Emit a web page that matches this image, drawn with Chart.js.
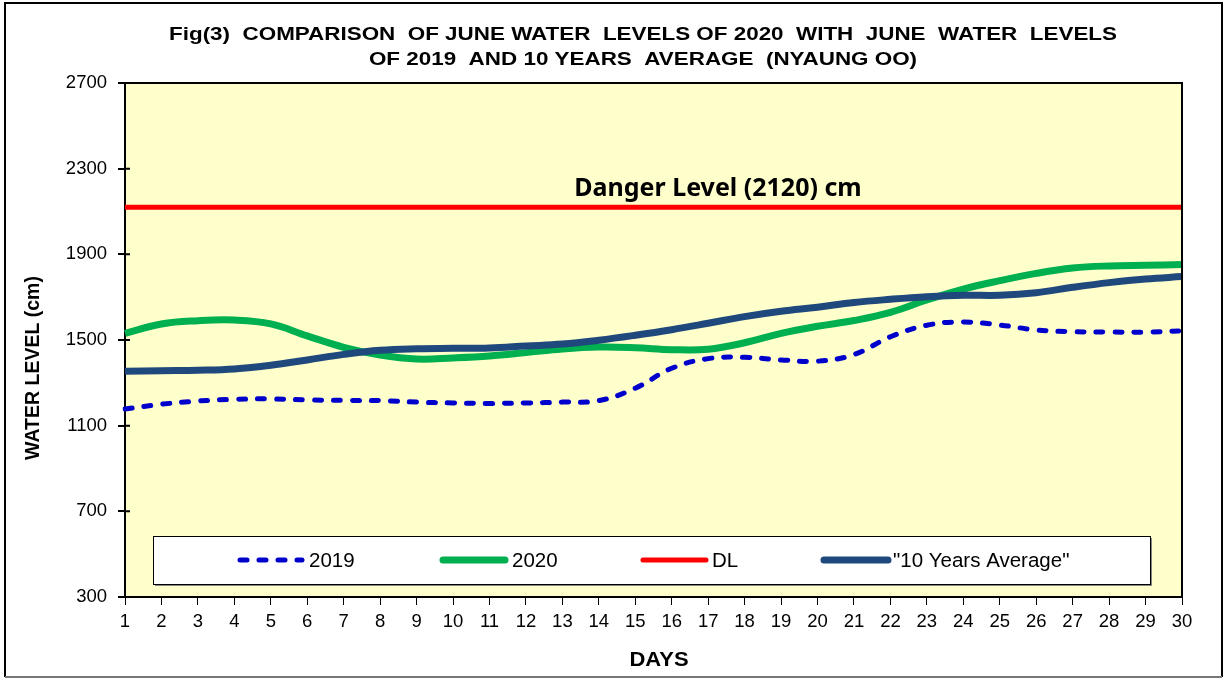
<!DOCTYPE html>
<html>
<head>
<meta charset="utf-8">
<script src="https://cdn.jsdelivr.net/npm/chart.js@4.4.1/dist/chart.umd.min.js"></script>
<style>
html,body{margin:0;padding:0;background:#fff;}
canvas{display:block;}
</style>
</head>
<body>
<canvas id="c" width="1227" height="680"></canvas>
<script>
const DAYS = ['1','2','3','4','5','6','7','8','9','10','11','12','13','14','15','16','17','18','19','20','21','22','23','24','25','26','27','28','29','30'];
const Y2019 = [1178,1200,1215,1223,1225,1220,1218,1217,1210,1206,1204,1206,1210,1217,1275,1368,1413,1419,1407,1401,1432,1515,1569,1584,1570,1547,1539,1537,1537,1543];
const Y2020 = [1531,1575,1590,1593,1575,1519,1466,1430,1411,1416,1425,1441,1458,1467,1464,1455,1457,1487,1531,1564,1591,1629,1687,1738,1777,1811,1836,1846,1849,1852];
const DL = [2120,2120,2120,2120,2120,2120,2120,2120,2120,2120,2120,2120,2120,2120,2120,2120,2120,2120,2120,2120,2120,2120,2120,2120,2120,2120,2120,2120,2120,2120];
const AVG10 = [1354,1357,1359,1365,1382,1407,1433,1452,1459,1461,1463,1472,1481,1499,1522,1548,1578,1609,1634,1653,1675,1690,1702,1709,1709,1721,1746,1768,1785,1796];
const Y_TICKS = [300,700,1100,1500,1900,2300,2700];
const DANGER_LABEL = 'Danger Level (2120) cm';
const TITLE_LINES = ['Fig(3)  COMPARISON  OF JUNE WATER  LEVELS OF 2020  WITH  JUNE  WATER  LEVELS','OF 2019  AND 10 YEARS  AVERAGE  (NYAUNG OO)'];
const LEGEND_LABELS = ['2019','2020','DL','"10 Years Average"'];

function stretchedText(ctx, text, cx, cy, sx) {
  ctx.save();
  ctx.translate(cx, cy);
  ctx.scale(sx, 1);
  ctx.fillText(text, 0, 0);
  ctx.restore();
}

const decor = {
  id: 'decor',
  beforeDraw(chart) {
    const {ctx, chartArea: a} = chart;
    ctx.save();
    ctx.fillStyle = '#FFFFCC';
    ctx.fillRect(a.left, a.top, a.right - a.left, a.bottom - a.top);
    ctx.restore();
  },
  afterDatasetsDraw(chart) {
    const {ctx, chartArea: a, scales} = chart;
    ctx.save();
    ctx.strokeStyle = '#000';
    ctx.lineWidth = 2;
    ctx.beginPath();
    ctx.moveTo(a.left, a.top); ctx.lineTo(a.right, a.top); ctx.lineTo(a.right, a.bottom);
    ctx.stroke();
    ctx.beginPath();
    Y_TICKS.forEach(v => {
      const y = scales.y.getPixelForValue(v);
      ctx.moveTo(a.left, y); ctx.lineTo(a.left + 5, y);
    });
    ctx.stroke();
    const yDL = scales.y.getPixelForValue(DL[0]);
    ctx.fillStyle = '#000';
    ctx.font = 'bold 25px "Noto Sans"';
    ctx.textAlign = 'center';
    ctx.textBaseline = 'alphabetic';
    ctx.fillText(DANGER_LABEL, 718, yDL - 11);
    const bx = 153, by = 536, bw = 997, bh = 48;
    ctx.fillStyle = '#888';
    ctx.fillRect(bx + 2, by + 2, bw, bh);
    ctx.fillStyle = '#fff';
    ctx.fillRect(bx, by, bw, bh);
    ctx.strokeStyle = '#000';
    ctx.lineWidth = 1;
    ctx.strokeRect(bx + 0.5, by + 0.5, bw, bh);
    const items = [[240,302,309],[443,505,512],[643,706,712],[824,888,893]];
    const ly = by + bh / 2;
    chart.data.datasets.forEach((ds, i) => {
      const [x1, x2, tx] = items[i];
      ctx.save();
      ctx.strokeStyle = ds.borderColor;
      ctx.lineWidth = ds.borderWidth;
      ctx.lineCap = 'round';
      ctx.setLineDash(ds.borderDash || []);
      ctx.beginPath(); ctx.moveTo(x1, ly); ctx.lineTo(x2, ly); ctx.stroke();
      ctx.restore();
      ctx.fillStyle = '#000';
      ctx.font = '20.5px "Liberation Sans", Arial';
      ctx.textAlign = 'left';
      ctx.textBaseline = 'middle';
      ctx.fillText(LEGEND_LABELS[i], tx, ly + 1);
    });
    ctx.restore();
  },
  afterDraw(chart) {
    const {ctx} = chart;
    ctx.save();
    ctx.fillStyle = '#000';
    ctx.textAlign = 'center';
    ctx.textBaseline = 'middle';
    ctx.font = 'bold 19px "Liberation Sans", Arial';
    stretchedText(ctx, TITLE_LINES[0], 643, 35, 1.18);
    stretchedText(ctx, TITLE_LINES[1], 643, 60, 1.18);
    ctx.font = 'bold 20px "Liberation Sans", Arial';
    stretchedText(ctx, 'DAYS', 659, 660, 1.1);
    ctx.translate(34, 368);
    ctx.rotate(-Math.PI / 2);
    ctx.font = 'bold 19.5px "Liberation Sans", Arial';
    ctx.fillText('WATER LEVEL (cm)', 0, 0);
    ctx.restore();
    ctx.save();
    ctx.strokeStyle = '#000';
    ctx.lineWidth = 2;
    ctx.beginPath();
    ctx.moveTo(5, 677); ctx.lineTo(5, 3); ctx.lineTo(1222, 3); ctx.lineTo(1222, 677);
    ctx.stroke();
    ctx.strokeStyle = '#777';
    ctx.beginPath(); ctx.moveTo(5, 677); ctx.lineTo(1222, 677); ctx.stroke();
    ctx.restore();
  }
};

new Chart(document.getElementById('c'), {
  type: 'line',
  data: {
    labels: DAYS,
    datasets: [
      {label: LEGEND_LABELS[0], data: Y2019, borderColor: '#0000CC', borderWidth: 5, borderDash: [7, 12], borderCapStyle: 'round', order: 3},
      {label: LEGEND_LABELS[1], data: Y2020, borderColor: '#00B050', borderWidth: 7, order: 2},
      {label: LEGEND_LABELS[2], data: DL, borderColor: '#FF0000', borderWidth: 5, tension: 0, order: 1},
      {label: LEGEND_LABELS[3], data: AVG10, borderColor: '#1F497D', borderWidth: 7, order: 0}
    ]
  },
  options: {
    responsive: false,
    animation: false,
    layout: {padding: {left: 0, right: 45, top: 83, bottom: 0}},
    elements: {
      point: {radius: 0, hoverRadius: 0},
      line: {tension: 0.4, fill: false, borderCapStyle: 'butt'}
    },
    plugins: {legend: {display: false}, title: {display: false}, tooltip: {enabled: false}},
    scales: {
      x: {
        offset: false,
        afterFit(s) { s.height = 83; },
        grid: {drawOnChartArea: false, drawTicks: true, tickLength: 8, color: '#000', lineWidth: 1},
        border: {display: true, color: '#000', width: 2},
        ticks: {color: '#000', font: {family: '"Liberation Sans", Arial', size: 18.5}, padding: 6, maxRotation: 0, autoSkip: false}
      },
      y: {
        min: Y_TICKS[0], max: Y_TICKS[Y_TICKS.length - 1],
        afterFit(s) { s.width = 125; },
        afterBuildTicks(s) { s.ticks = Y_TICKS.map(v => ({value: v})); },
        grid: {drawOnChartArea: false, drawTicks: true, tickLength: 7, color: '#000', lineWidth: 2},
        border: {display: true, color: '#000', width: 2},
        ticks: {color: '#000', font: {family: '"Liberation Sans", Arial', size: 18.5}, padding: 11, callback: v => String(v)}
      }
    }
  },
  plugins: [decor]
});
</script>
</body>
</html>
